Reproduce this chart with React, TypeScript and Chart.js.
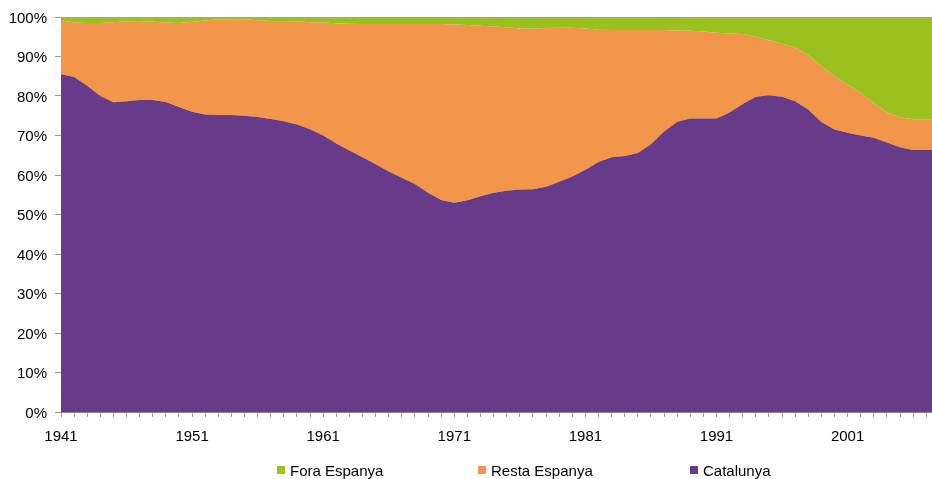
import React, { useEffect, useRef } from 'react';
import { Chart, registerables } from 'chart.js';

Chart.register(...registerables);

const years = [
  1941, 1942, 1943, 1944, 1945, 1946, 1947, 1948, 1949, 1950,
  1951, 1952, 1953, 1954, 1955, 1956, 1957, 1958, 1959, 1960,
  1961, 1962, 1963, 1964, 1965, 1966, 1967, 1968, 1969, 1970,
  1971, 1972, 1973, 1974, 1975, 1976, 1977, 1978, 1979, 1980,
  1981, 1982, 1983, 1984, 1985, 1986, 1987, 1988, 1989, 1990,
  1991, 1992, 1993, 1994, 1995, 1996, 1997, 1998, 1999, 2000,
  2001, 2002, 2003, 2004, 2005, 2006, 2007, 2008,
];

const catalunya = [
  85.5, 84.8, 82.6, 80.0, 78.4, 78.7, 79.0, 79.0, 78.5, 77.2,
  76.0, 75.3, 75.2, 75.2, 75.0, 74.7, 74.2, 73.6, 72.8, 71.6,
  70.0, 68.0, 66.2, 64.5, 62.7, 60.9, 59.3, 57.7, 55.5, 53.7,
  53.0, 53.6, 54.6, 55.5, 56.0, 56.3, 56.4, 57.0, 58.3, 59.6,
  61.3, 63.3, 64.5, 64.8, 65.6, 67.8, 71.0, 73.5, 74.3, 74.3,
  74.3, 75.8, 78.0, 79.8, 80.2, 79.8, 78.7, 76.6, 73.4, 71.5,
  70.7, 70.0, 69.4, 68.2, 67.0, 66.3, 66.3, 66.3,
];

const restaEspanya = [
  13.7, 13.8, 15.9, 18.5, 20.3, 20.2, 20.0, 19.8, 20.1, 21.3,
  22.8, 23.8, 24.2, 24.2, 24.4, 24.5, 24.8, 25.4, 26.1, 27.1,
  28.6, 30.4, 32.1, 33.7, 35.5, 37.3, 38.9, 40.5, 42.7, 44.5,
  45.1, 44.4, 43.2, 42.1, 41.4, 40.8, 40.6, 40.2, 39.0, 37.7,
  35.8, 33.5, 32.2, 31.9, 31.1, 28.9, 25.7, 23.1, 22.2, 22.0,
  21.7, 20.0, 17.7, 15.2, 13.9, 13.4, 13.6, 13.7, 14.2, 13.5,
  12.2, 10.8, 8.8, 7.7, 7.6, 7.8, 7.8, 7.8,
];

const foraEspanya = [
  0.8, 1.4, 1.5, 1.5, 1.3, 1.1, 1.0, 1.2, 1.4, 1.5,
  1.2, 0.9, 0.6, 0.6, 0.6, 0.8, 1.0, 1.0, 1.1, 1.3,
  1.4, 1.6, 1.7, 1.8, 1.8, 1.8, 1.8, 1.8, 1.8, 1.8,
  1.9, 2.0, 2.2, 2.4, 2.6, 2.9, 3.0, 2.8, 2.7, 2.7,
  2.9, 3.2, 3.3, 3.3, 3.3, 3.3, 3.3, 3.4, 3.5, 3.7,
  4.0, 4.2, 4.3, 5.0, 5.9, 6.8, 7.7, 9.7, 12.4, 15.0,
  17.1, 19.2, 21.8, 24.1, 25.4, 25.9, 25.9, 25.9,
];

const labeledYears = [1941, 1951, 1961, 1971, 1981, 1991, 2001];
const yTickValues = [0, 10, 20, 30, 40, 50, 60, 70, 80, 90, 100];

const COLORS = {
  catalunya: '#683A8A',
  resta: '#F1964A',
  fora: '#9BC11E',
};

const legendItems = [
  { label: 'Fora Espanya', color: COLORS.fora, left: 277 },
  { label: 'Resta Espanya', color: COLORS.resta, left: 478 },
  { label: 'Catalunya', color: COLORS.catalunya, left: 690 },
];

const FONT = "'Liberation Sans', Arial, Helvetica, sans-serif";

const toPoints = (vals: number[]) => vals.map((v, i) => ({ x: years[i], y: v }));

export default function App() {
  const canvasRef = useRef<HTMLCanvasElement | null>(null);

  useEffect(() => {
    document.body.style.margin = '0';
    const canvas = canvasRef.current;
    if (!canvas) return;
    const area = (label: string, data: number[], color: string, fill: any) => ({
      label,
      data: toPoints(data),
      backgroundColor: color,
      borderColor: color,
      borderWidth: 0,
      pointRadius: 0,
      pointHoverRadius: 0,
      tension: 0,
      fill,
    });
    const chart = new Chart(canvas, {
      type: 'line',
      data: {
        datasets: [
          area('Catalunya', catalunya, COLORS.catalunya, 'origin'),
          area('Resta Espanya', restaEspanya, COLORS.resta, '-1'),
          area('Fora Espanya', foraEspanya, COLORS.fora, '-1'),
        ],
      },
      options: {
        animation: false,
        responsive: false,
        maintainAspectRatio: false,
        layout: { padding: { left: 8, top: 17, right: 0, bottom: 37 } },
        plugins: {
          legend: { display: false },
          tooltip: { enabled: false },
        },
        scales: {
          x: {
            type: 'linear',
            min: 1941,
            max: 2007.44,
            afterBuildTicks: (scale: any) => {
              scale.ticks = years.filter((y) => y <= 2007).map((v) => ({ value: v }));
            },
            afterFit: (scale: any) => {
              scale.height = 30;
              scale.paddingRight = 0;
            },
            ticks: {
              autoSkip: false,
              maxRotation: 0,
              minRotation: 0,
              padding: 11,
              color: '#000',
              font: { family: FONT, size: 15 },
              callback: (v: any) => (labeledYears.includes(Number(v)) ? String(v) : ''),
            },
            grid: {
              drawOnChartArea: false,
              drawTicks: true,
              tickLength: 5,
              tickColor: '#9a9a9a',
            },
            border: { display: true, color: '#8f8a80', width: 1 },
          },
          y: {
            stacked: true,
            min: 0,
            max: 100,
            afterBuildTicks: (scale: any) => {
              scale.ticks = yTickValues.map((v) => ({ value: v }));
            },
            afterFit: (scale: any) => {
              scale.width = 53;
            },
            ticks: {
              padding: 8,
              labelOffset: 1.5,
              color: '#000',
              font: { family: FONT, size: 15 },
              callback: (v: any) => `${v}%`,
            },
            grid: {
              drawOnChartArea: true,
              color: '#cfcfcf',
              drawTicks: true,
              tickLength: 6,
              tickColor: '#9a9a9a',
            },
            border: { display: true, color: '#8f8a80', width: 1 },
          },
        },
      },
    });
    return () => chart.destroy();
  }, []);

  return (
    <div style={{ position: 'relative', width: 932, height: 479, fontFamily: FONT }}>
      <canvas ref={canvasRef} width={932} height={479} style={{ display: 'block' }} />
      {legendItems.map((it) => (
        <div
          key={it.label}
          style={{
            position: 'absolute',
            left: it.left,
            top: 461,
            height: 18,
            display: 'flex',
            alignItems: 'center',
            fontSize: 15,
            color: '#000',
            whiteSpace: 'nowrap',
          }}
        >
          <span
            style={{
              display: 'inline-block',
              width: 8,
              height: 8,
              background: it.color,
              marginRight: 5,
            }}
          />
          <span>{it.label}</span>
        </div>
      ))}
    </div>
  );
}
